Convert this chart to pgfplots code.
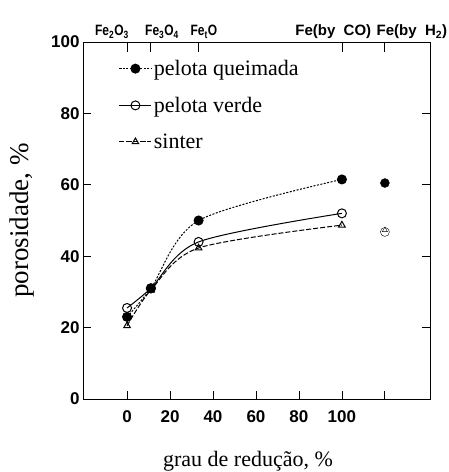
\documentclass[border=0pt]{standalone}
\usepackage{fontspec}
\setmainfont{Liberation Serif}
\newfontfamily\tickfont{Liberation Sans}
\newfontfamily\oxfont[FakeStretch=0.8]{Liberation Sans}
\usepackage{pgfplots}
\pgfplotsset{compat=1.18}
\begin{document}
\begin{tikzpicture}
\useasboundingbox (-83pt,-73pt) rectangle (366pt,399pt);
\begin{axis}[
  at={(0pt,0pt)}, anchor=south west,
  scale only axis, width=347pt, height=357pt,
  xmin=-20.5, xmax=141, ymin=0, ymax=100,
  xtick={0,20,40,60,80,100,120}, xticklabels={0,20,40,60,80,100,{}},
  xtick pos=bottom, ytick={0,20,40,60,80,100}, ytick pos=both, yticklabel pos=left,
  tick align=inside, major tick length=8pt,
  tick style={black, line width=0.8pt},
  axis line style={line width=0.9pt},
  /pgf/number format/assume math mode=true,
  ticklabel style={font=\tickfont\bfseries\fontsize{17}{17}\selectfont},
  xticklabel style={yshift=-8pt},
  xlabel={grau de redução, \%},
  xlabel style={at={(axis description cs:0.4755,-0.19)}, anchor=base, font=\fontsize{22}{22}\selectfont},
  ylabel={porosidade, \%},
  ylabel style={at={(axis description cs:-0.176,0.5)}, anchor=center, font=\fontsize{27}{27}\selectfont},
  legend style={draw=none, fill=none, at={(axis description cs:0.103,0.955)}, anchor=north west,
    font=\fontsize{22}{22}\selectfont, row sep=16pt, inner sep=0pt},
  legend cell align=left,
  legend image code/.code={\draw[mark repeat=2,mark phase=2,#1] plot coordinates {(0pt,0pt) (16pt,0pt) (32pt,0pt)};},
  clip=false,
]
\addplot[black, line width=1pt, dash pattern=on 2pt off 1.5pt, smooth, mark=*, mark size=4.5pt, mark options={solid, fill=black}]
  coordinates {(0,23) (11.1,31) (33.3,50) (100,61.5)};
\addlegendentry{pelota queimada}
\addplot[black, line width=1pt, smooth, mark=o, mark size=4.5pt, mark options={solid, fill=white}]
  coordinates {(0,25.5) (11.1,31) (33.3,44) (100,52)};
\addlegendentry{pelota verde}
\addplot[black, line width=1pt, dash pattern=on 5pt off 2pt, smooth, mark=triangle, mark size=3.8pt, mark options={solid, fill=white}]
  coordinates {(0,20.5) (11.1,30.5) (33.3,42.3) (100,48.7)};
\addlegendentry{sinter}
\addplot[only marks, mark=*, mark size=4.5pt, black, fill=black, forget plot] coordinates {(120,60.5)};
\addplot[only marks, mark=o, mark size=4.5pt, black, fill=white, forget plot] coordinates {(120,46.8)};
\addplot[only marks, mark=triangle, mark size=3pt, black, forget plot] coordinates {(120,47.3)};
\node[font=\oxfont\bfseries\fontsize{15}{15}\selectfont, anchor=base] at (axis cs:-7,100) [yshift=6pt] {Fe\textsubscript{2}O\textsubscript{3}};
\node[font=\oxfont\bfseries\fontsize{15}{15}\selectfont, anchor=base] at (axis cs:16.3,100) [yshift=6pt] {Fe\textsubscript{3}O\textsubscript{4}};
\node[font=\oxfont\bfseries\fontsize{15}{15}\selectfont, anchor=base] at (axis cs:35.8,100) [yshift=6pt] {Fe\textsubscript{t}O};
\node[font=\tickfont\bfseries\fontsize{15}{15}\selectfont, anchor=base] at (axis cs:96,100) [yshift=6pt] {Fe(by\ \ CO)};
\node[font=\tickfont\bfseries\fontsize{15}{15}\selectfont, anchor=base] at (axis cs:132.6,100) [yshift=6pt] {Fe(by\ \ H\textsubscript{2})};
\end{axis}
\begin{axis}[
  at={(0pt,0pt)}, anchor=south west,
  scale only axis, width=347pt, height=357pt,
  xmin=-20.5, xmax=141, ymin=0, ymax=100,
  axis x line*=top, axis y line=none,
  xtick={0,11.1,33.3,100,120}, xticklabels={},
  tick align=inside, major tick length=10pt,
  tick style={black, line width=0.8pt},
  axis line style={line width=0.9pt},
]
\end{axis}
\end{tikzpicture}
\end{document}
